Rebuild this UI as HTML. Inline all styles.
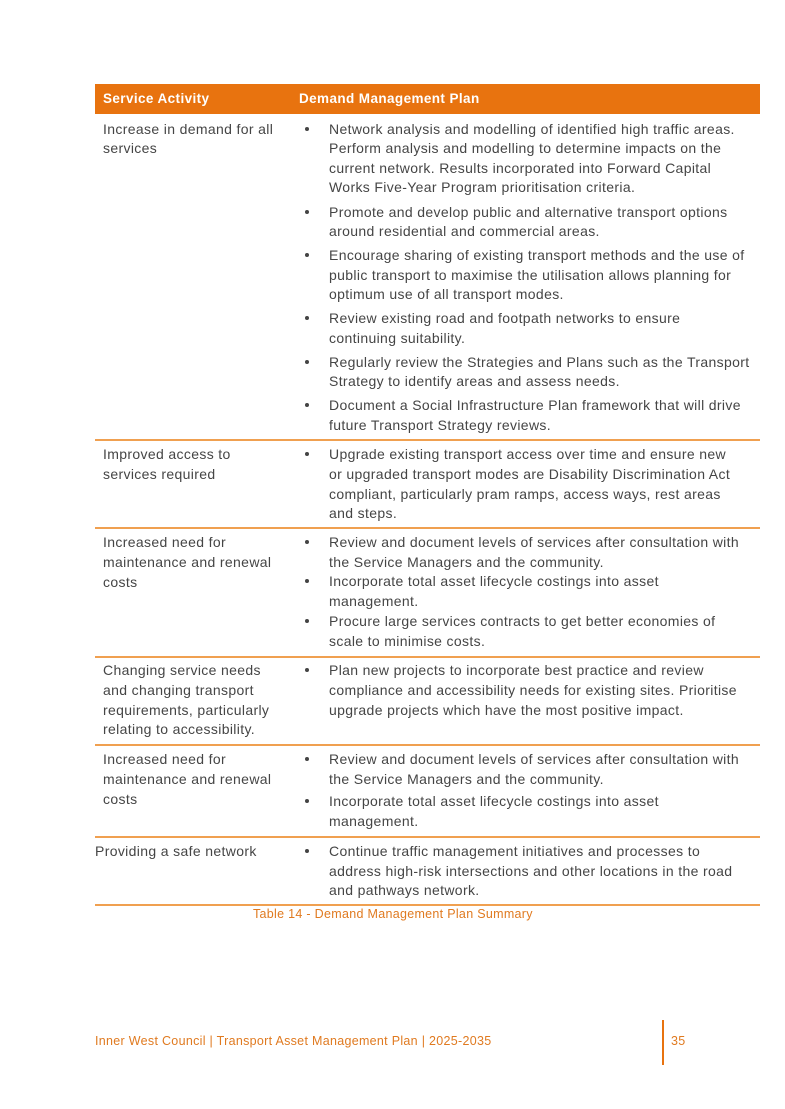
<!DOCTYPE html>
<html><head><meta charset="utf-8"><style>
body{margin:0;background:#fff;}
#p{position:relative;width:785px;height:1109px;overflow:hidden;font-family:"Liberation Sans",sans-serif;color:#454545;font-size:14px;letter-spacing:0.35px;}
.l{position:absolute;white-space:nowrap;line-height:20px;height:20px;}
.b{position:absolute;width:4px;height:4px;border-radius:2px;background:#444;}
.h{position:absolute;height:1.5px;background:#f0a050;left:95px;width:665px;}
.o{color:#e07a20;font-size:12.5px;letter-spacing:0.3px;}
</style></head><body><div id="p">
<div style="position:absolute;left:95px;top:84px;width:665px;height:30px;background:#e8730f;"></div>
<div class="l" style="left:103px;top:89px;color:#fff;font-weight:bold;font-size:13.5px;letter-spacing:0.4px;">Service Activity</div>
<div class="l" style="left:299px;top:89px;color:#fff;font-weight:bold;font-size:13.5px;letter-spacing:0.4px;">Demand Management Plan</div>
<div id="c"></div>
<div class="h" style="top:439px"></div><div class="h" style="top:527px"></div><div class="h" style="top:656px"></div><div class="h" style="top:744px"></div><div class="h" style="top:836px"></div><div class="h" style="top:904px"></div>
<div class="l o" style="left:253px;top:904px;">Table 14 - Demand Management Plan Summary</div>
<div class="l o" style="left:95px;top:1031px;">Inner West Council | Transport Asset Management Plan | 2025-2035</div>
<div style="position:absolute;left:662px;top:1020px;width:2px;height:45px;background:#e8730f;"></div>
<div class="l o" style="left:671px;top:1031px;">35</div>
</div>
<script>
var L=[[103,129,"Increase in demand for all"],[103,148,"services"],
[103,454,"Improved access to"],[103,474,"services required"],
[103,542,"Increased need for"],[103,562,"maintenance and renewal"],[103,582,"costs"],
[103,670,"Changing service needs"],[103,690,"and changing transport"],[103,710,"requirements, particularly"],[103,729,"relating to accessibility."],
[103,759,"Increased need for"],[103,779,"maintenance and renewal"],[103,799,"costs"],
[95,851,"Providing a safe network"]];
var R=[[129,"Network analysis and modelling of identified high traffic areas.",1],[148,"Perform analysis and modelling to determine impacts on the"],[168,"current network. Results incorporated into Forward Capital"],[187,"Works Five-Year Program prioritisation criteria."],
[212,"Promote and develop public and alternative transport options",1],[231,"around residential and commercial areas."],
[255,"Encourage sharing of existing transport methods and the use of",1],[275,"public transport to maximise the utilisation allows planning for"],[294,"optimum use of all transport modes."],
[318,"Review existing road and footpath networks to ensure",1],[338,"continuing suitability."],
[362,"Regularly review the Strategies and Plans such as the Transport",1],[381,"Strategy to identify areas and assess needs."],
[405,"Document a Social Infrastructure Plan framework that will drive",1],[425,"future Transport Strategy reviews."],
[454,"Upgrade existing transport access over time and ensure new",1],[474,"or upgraded transport modes are Disability Discrimination Act"],[494,"compliant, particularly pram ramps, access ways, rest areas"],[513,"and steps."],
[542,"Review and document levels of services after consultation with",1],[562,"the Service Managers and the community."],
[581,"Incorporate total asset lifecycle costings into asset",1],[601,"management."],
[621,"Procure large services contracts to get better economies of",1],[641,"scale to minimise costs."],
[670,"Plan new projects to incorporate best practice and review",1],[690,"compliance and accessibility needs for existing sites. Prioritise"],[710,"upgrade projects which have the most positive impact."],
[759,"Review and document levels of services after consultation with",1],[779,"the Service Managers and the community."],
[801,"Incorporate total asset lifecycle costings into asset",1],[821,"management."],
[851,"Continue traffic management initiatives and processes to",1],[871,"address high-risk intersections and other locations in the road"],[890,"and pathways network."]];
var h="";
L.forEach(function(a){h+='<div class="l" style="left:'+a[0]+'px;top:'+(a[1]-10)+'px">'+a[2]+'</div>';});
R.forEach(function(a){h+='<div class="l" style="left:329px;top:'+(a[0]-10)+'px">'+a[1]+'</div>';if(a[2])h+='<div class="b" style="left:305px;top:'+(a[0]-2)+'px"></div>';});
document.getElementById("c").innerHTML=h;
</script>
</body></html>
